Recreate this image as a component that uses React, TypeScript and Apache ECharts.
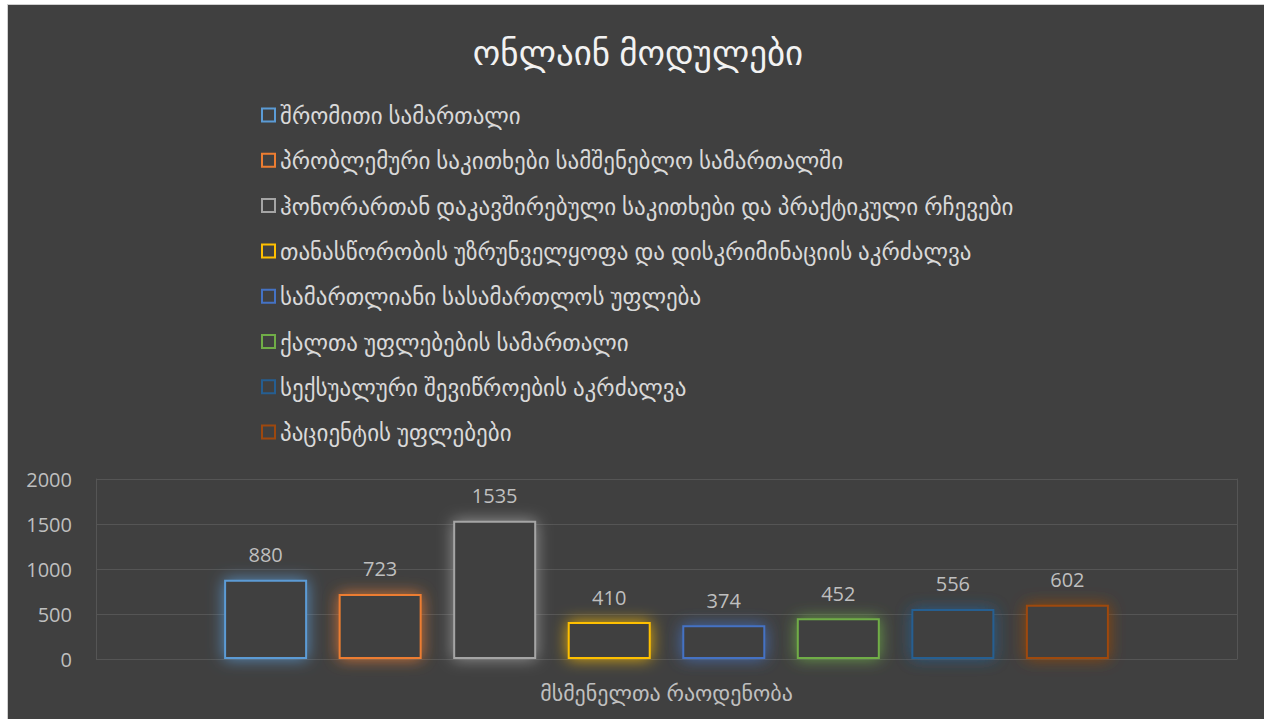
import React, { useEffect, useRef } from "react";
import * as echarts from "echarts";

const titleText = "ონლაინ მოდულები";
const category = ["მსმენელთა რაოდენობა"];
const seriesNames = [
  "შრომითი სამართალი",
  "პრობლემური საკითხები სამშენებლო სამართალში",
  "ჰონორართან დაკავშირებული საკითხები და პრაქტიკული რჩევები",
  "თანასწორობის უზრუნველყოფა და დისკრიმინაციის აკრძალვა",
  "სამართლიანი სასამართლოს უფლება",
  "ქალთა უფლებების სამართალი",
  "სექსუალური შევიწროების აკრძალვა",
  "პაციენტის უფლებები",
];
const seriesValues = [880, 723, 1535, 410, 374, 452, 556, 602];
const seriesColors = ["#5B9BD5", "#ED7D31", "#A5A5A5", "#FFC000", "#4472C4", "#70AD47", "#255E91", "#9E480E"];
const yTicks = { min: 0, max: 2000, interval: 500 };

const BG = "#404040";
const FONT = "'Segoe UI', 'Open Sans', 'DejaVu Sans', sans-serif";

function hexA(hex: string, a: number) {
  const n = parseInt(hex.slice(1), 16);
  return `rgba(${(n >> 16) & 255},${(n >> 8) & 255},${n & 255},${a})`;
}

export default function App() {
  const ref = useRef<HTMLDivElement>(null);
  useEffect(() => {
    if (!ref.current) return;
    const chart = echarts.init(ref.current, null, { renderer: "svg" });
    chart.setOption({
      animation: false,
      backgroundColor: BG,
      title: {
        text: titleText,
        left: "center",
        top: 24,
        textStyle: { color: "#f2f2f2", fontSize: 35, fontWeight: "normal", fontFamily: FONT },
      },
      legend: {
        orient: "vertical",
        left: 248,
        top: 93,
        itemWidth: 13,
        itemHeight: 13,
        itemGap: 21.3,
        icon: "rect",
        textStyle: { color: "#d9d9d9", fontSize: 23, lineHeight: 24, fontFamily: FONT },
        data: seriesNames,
      },
      grid: { left: 88, top: 474, width: 1141, height: 180 },
      xAxis: {
        type: "category",
        data: category,
        axisLine: { show: false },
        axisTick: { show: false },
        axisLabel: { color: "#bfbfbf", fontSize: 22, fontFamily: FONT, margin: 22 },
      },
      yAxis: [
        {
          type: "value",
          ...yTicks,
          axisLine: { show: true, lineStyle: { color: "#555555" } },
          axisTick: { show: false },
          splitLine: { lineStyle: { color: "#555555", width: 1 } },
          axisLabel: { color: "#bfbfbf", fontSize: 20, fontFamily: FONT, margin: 24, formatter: (v: number) => String(v) },
        },
        {
          type: "value",
          position: "right",
          ...yTicks,
          axisLine: { show: true, lineStyle: { color: "#555555" } },
          axisTick: { show: false },
          splitLine: { show: false },
          axisLabel: { show: false },
        },
      ],
      series: seriesNames.map((name, i) => ({
        name,
        type: "bar",
        yAxisIndex: 0,
        data: [seriesValues[i]],
        barWidth: 83,
        barGap: "38%",
        itemStyle: {
          color: BG,
          borderColor: seriesColors[i],
          borderWidth: 2,
          shadowBlur: 16,
          shadowColor: hexA(seriesColors[i], 0.85),
        },
        label: {
          show: true,
          position: "top",
          distance: 15,
          color: "#bfbfbf",
          fontSize: 20,
          fontFamily: FONT,
        },
      })),
    });
    return () => chart.dispose();
  }, []);
  return (
    <div
      ref={ref}
      style={{
        position: "fixed",
        left: 7,
        top: 4,
        width: 1260,
        height: 720,
        borderLeft: "1px solid #d0d0d0",
        borderTop: "1px solid #d0d0d0",
        boxSizing: "content-box",
      }}
    />
  );
}
